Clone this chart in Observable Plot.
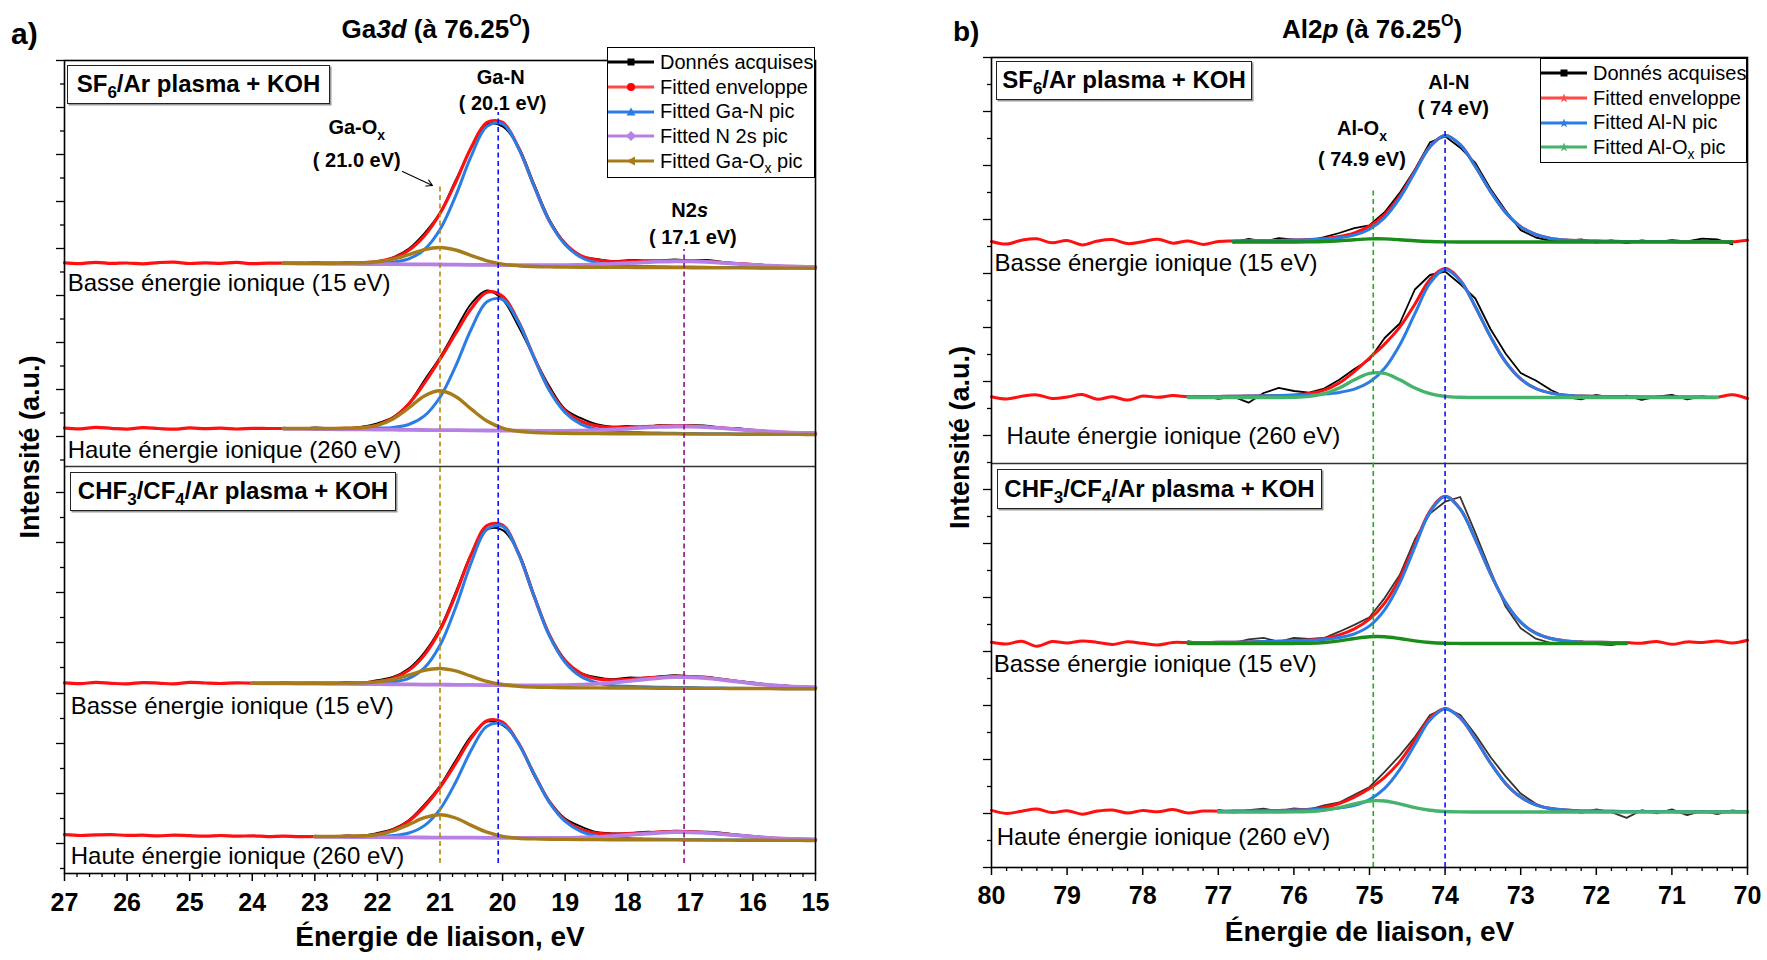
<!DOCTYPE html>
<html lang="fr">
<head>
<meta charset="utf-8">
<title>Ga3d / Al2p</title>
<script src="https://cdn.jsdelivr.net/npm/d3@7"></script>
<script src="https://cdn.jsdelivr.net/npm/@observablehq/plot@0.6"></script>
<style>
  html, body { margin: 0; padding: 0; background: #fff; }
  #root { position: relative; width: 1767px; height: 960px; overflow: hidden; font-family: "Liberation Sans", Arial, Helvetica, sans-serif; color: #000; }
  .panel { position: absolute; top: 0; }
  .hdr { position: absolute; font-weight: bold; line-height: 1; white-space: nowrap; }
  .title { text-align: center; font-size: 26px; }
  .title sup { font-size: 16px; vertical-align: 12px; line-height: 0; }
  .box { position: absolute; box-sizing: border-box; border: 1.5px solid #222; box-shadow: 1.5px 1.5px 0 #999; background: #fff; font-weight: bold; font-size: 24px; text-align: center; white-space: nowrap; }
  .box sub { font-size: 17px; vertical-align: -6px; line-height: 0; }
  .legend { position: absolute; box-sizing: border-box; border: 1.5px solid #000; background: #fff; font-size: 20px; padding-top: 2px; }
  .legend .item { height: 24.7px; display: flex; align-items: center; white-space: nowrap; }
  .legend svg { width: 46px; height: 14px; margin-right: 6px; flex: none; }
  .legend sub { font-size: 14px; vertical-align: -5px; line-height: 0; }
</style>
</head>
<body>
<div id="root"></div>
<script>
// ---------------- DATA (panel a : Ga3d) ----------------
const energyA = [27, 26.75, 26.5, 26.25, 26, 25.75, 25.5, 25.25, 25, 24.75, 24.5, 24.25, 24, 23.75, 23.5, 23.25, 23, 22.75, 22.5, 22.25, 22, 21.75, 21.5, 21.25, 21, 20.75, 20.5, 20.25, 20, 19.75, 19.5, 19.25, 19, 18.75, 18.5, 18.25, 18, 17.75, 17.5, 17.25, 17, 16.75, 16.5, 16.25, 16, 15.75, 15.5, 15.25, 15];
const spectraA = ["SF6/Ar basse", "SF6/Ar haute", "CHF3/CF4/Ar basse", "CHF3/CF4/Ar haute"];
const offsetA = [605.3, 439, 184.7, 33];
const fitStartA = [23.5, 23.5, 24, 23];

const envA1 = [5.3, 4.6, 5.9, 4.8, 5.2, 4.3, 5.6, 6.1, 4.7, 5.4, 4.9, 5.8, 4.5, 5.1, 5.0, 5.0, 5.0, 5.0, 5.1, 5.3, 6.7, 10.1, 17.9, 32.3, 54.7, 86.0, 120.9, 145.8, 145.8, 121.0, 82.8, 47.0, 24.5, 12.5, 8.3, 6.6, 6.6, 7.0, 7.4, 7.6, 7.4, 6.8, 5.7, 4.7, 3.5, 2.5, 1.9, 1.5, 1.2];
const envA2 = [6.4, 5.6, 7.1, 6.2, 5.4, 6.8, 6.0, 5.3, 6.6, 5.8, 6.3, 5.5, 6.1, 6.0, 6.0, 6.0, 6.0, 6.0, 6.2, 6.8, 9.5, 16.6, 30.5, 51.3, 75.3, 101.1, 126.0, 142.3, 138.2, 113.5, 77.5, 44.9, 23.5, 13.3, 8.6, 7.1, 7.3, 7.8, 8.4, 8.7, 8.5, 7.7, 6.6, 5.4, 4.1, 3.0, 2.2, 1.7, 1.4];
const envA3 = [5.9, 5.2, 6.4, 5.5, 5.0, 6.2, 5.7, 4.9, 6.5, 5.8, 5.3, 6.0, 5.6, 5.6, 5.6, 5.6, 5.6, 5.6, 5.7, 5.9, 7.2, 10.6, 18.5, 33.8, 58.5, 94.2, 134.4, 163.2, 163.7, 136.0, 93.1, 53.6, 28.0, 15.5, 10.1, 8.8, 9.4, 10.6, 11.7, 12.4, 12.2, 11.1, 9.3, 7.5, 5.5, 3.8, 2.7, 1.9, 1.4];
const envA4 = [5.8, 5.0, 5.6, 5.9, 5.1, 5.3, 4.6, 5.4, 4.8, 4.4, 5.0, 4.3, 4.7, 3.9, 4.4, 3.8, 4.0, 4.0, 4.1, 4.5, 6.1, 10.4, 19.3, 33.9, 53.2, 77.1, 102.4, 119.8, 118.3, 97.8, 67.0, 38.5, 20.2, 11.1, 7.3, 6.3, 6.8, 7.6, 8.4, 8.8, 8.7, 8.0, 6.7, 5.4, 3.9, 2.7, 1.9, 1.4, 1.0];

const dataA1 = [5.8, 4.5, 6.0, 4.7, 5.7, 5.5, 6.3, 10.9, 19.4, 34.8, 55.7, 88.0, 119.9, 143.8, 141.8, 122.0, 84.8, 48.5, 25.0, 12.0, 9.3, 7.1, 8.1, 7.8, 7.7, 8.8, 7.8, 8.3, 6.4, 4.9, 4.3, 2.8, 1.7, 1.8, 1.2];
const dataA2 = [6.7, 5.4, 7.1, 6.2, 5.7, 7.7, 11.2, 17.4, 31.0, 54.3, 77.3, 104.4, 131.0, 144.0, 134.9, 108.5, 77.5, 47.9, 25.2, 16.3, 10.3, 7.9, 8.5, 7.5, 9.3, 9.1, 9.2, 8.9, 6.9, 6.3, 4.3, 3.5, 2.3, 2.1, 1.4];
const dataA3 = [6.0, 4.9, 6.5, 5.4, 6.2, 5.1, 6.5, 6.1, 8.7, 11.8, 20.3, 36.3, 60.5, 96.7, 134.9, 159.2, 158.7, 137.0, 94.6, 54.1, 29.0, 16.0, 11.6, 9.6, 11.2, 11.0, 12.3, 13.6, 12.5, 12.1, 10.1, 7.9, 6.4, 4.1, 3.3, 1.7, 1.4];
const dataA4 = [4.8, 3.6, 5.0, 4.8, 7.5, 11.6, 20.3, 35.9, 54.7, 80.1, 104.7, 118.8, 115.3, 98.3, 65.3, 39.5, 21.9, 14.1, 8.5, 7.1, 7.2, 8.6, 8.7, 9.7, 9.2, 8.8, 7.9, 5.8, 4.6, 2.9, 2.4, 1.5, 1.0];

const ganA1 = [5.0, 5.0, 5.0, 5.0, 5.0, 5.0, 5.3, 6.1, 9.3, 18.6, 38.7, 72.3, 112.3, 141.8, 144.4, 120.6, 82.7, 46.8, 23.4, 11.0, 5.5, 3.1, 2.3, 1.8, 1.5, 1.3, 1.1, 0.9, 0.7, 0.6, 0.4, 0.2, 0.1, 0.1, 0];
const ganA2 = [6.0, 6.0, 6.0, 6.0, 6.0, 6.0, 6.3, 7.1, 10.0, 18.6, 37.3, 68.4, 105.5, 132.8, 135.0, 112.7, 77.2, 43.7, 21.9, 10.3, 5.2, 3.0, 2.2, 1.8, 1.4, 1.2, 1.0, 0.8, 0.7, 0.6, 0.4, 0.2, 0.1, 0.1, 0];
const ganA3 = [5.6, 5.6, 5.6, 5.6, 5.6, 5.6, 5.6, 5.6, 5.9, 6.9, 10.4, 20.9, 43.5, 81.3, 126.3, 159.4, 162.4, 135.6, 93.0, 52.6, 26.3, 12.3, 6.1, 3.4, 2.5, 2.0, 1.6, 1.4, 1.2, 0.9, 0.7, 0.6, 0.4, 0.2, 0.1, 0.1, 0];
const ganA4 = [4.0, 4.0, 4.0, 4.0, 4.2, 4.9, 7.5, 14.9, 31.2, 58.2, 90.5, 114.3, 116.4, 97.3, 66.8, 37.9, 19.1, 9.1, 4.6, 2.7, 2.0, 1.6, 1.3, 1.1, 1.0, 0.8, 0.6, 0.5, 0.4, 0.2, 0.1, 0.1, 0];

const n2sA1 = [4.8, 4.7, 4.6, 4.4, 4.3, 4.2, 4.1, 4.0, 3.9, 3.8, 3.7, 3.6, 3.4, 3.3, 3.2, 3.1, 3.1, 3.0, 3.1, 3.3, 3.7, 4.3, 5.0, 5.8, 6.5, 6.9, 6.8, 6.3, 5.4, 4.4, 3.4, 2.5, 1.9, 1.5, 1.2];
const n2sA2 = [5.7, 5.6, 5.5, 5.3, 5.2, 5.1, 4.9, 4.8, 4.7, 4.5, 4.4, 4.3, 4.1, 4.0, 3.9, 3.8, 3.7, 3.6, 3.7, 3.9, 4.3, 5.0, 5.8, 6.8, 7.6, 8.0, 7.9, 7.3, 6.3, 5.1, 4.0, 3.0, 2.2, 1.7, 1.4];
const n2sA3 = [5.6, 5.5, 5.4, 5.2, 5.1, 5.0, 4.9, 4.7, 4.6, 4.5, 4.4, 4.2, 4.1, 4.0, 3.9, 3.7, 3.6, 3.5, 3.5, 3.5, 3.7, 4.1, 5.0, 6.2, 7.7, 9.3, 10.7, 11.6, 11.5, 10.6, 9.0, 7.2, 5.3, 3.8, 2.7, 1.9, 1.4];
const n2sA4 = [3.6, 3.6, 3.5, 3.4, 3.3, 3.2, 3.1, 3.0, 2.9, 2.8, 2.8, 2.7, 2.6, 2.5, 2.5, 2.5, 2.6, 3.0, 3.5, 4.4, 5.5, 6.7, 7.7, 8.3, 8.2, 7.6, 6.4, 5.1, 3.8, 2.7, 1.9, 1.4, 1.0];

const gaoxA1 = [5.0, 5.0, 5.0, 5.0, 5.1, 5.3, 6.4, 9.0, 13.6, 18.6, 20.7, 18.2, 12.6, 7.4, 4.1, 2.5, 1.7, 1.3, 1.1, 0.9, 0.9, 0.8, 0.8, 0.7, 0.6, 0.6, 0.5, 0.4, 0.4, 0.3, 0.3, 0.2, 0.1, 0.1, 0];
const gaoxA2 = [6.0, 6.0, 6.0, 6.0, 6.2, 6.8, 9.2, 15.5, 26.5, 38.5, 43.7, 38.0, 25.3, 13.5, 6.4, 3.2, 2.0, 1.4, 1.2, 0.9, 0.9, 0.8, 0.8, 0.7, 0.6, 0.6, 0.5, 0.4, 0.4, 0.3, 0.3, 0.2, 0.1, 0.1, 0];
const gaoxA3 = [5.6, 5.6, 5.6, 5.6, 5.6, 5.6, 5.7, 5.9, 6.9, 9.3, 13.7, 18.4, 20.3, 17.9, 12.6, 7.5, 4.3, 2.6, 1.8, 1.4, 1.1, 0.9, 0.9, 0.8, 0.8, 0.7, 0.6, 0.6, 0.5, 0.4, 0.4, 0.3, 0.3, 0.2, 0.1, 0.1, 0];
const gaoxA4 = [4.0, 4.0, 4.1, 4.5, 5.9, 9.5, 15.9, 22.8, 25.8, 22.5, 15.1, 8.3, 4.2, 2.3, 1.6, 1.2, 1.1, 0.9, 0.9, 0.8, 0.8, 0.7, 0.6, 0.6, 0.5, 0.4, 0.4, 0.3, 0.3, 0.2, 0.1, 0.1, 0];

// ---------------- DATA (panel b : Al2p) ----------------
const energyB = [80, 79.8, 79.6, 79.4, 79.2, 79, 78.8, 78.6, 78.4, 78.2, 78, 77.8, 77.6, 77.4, 77.2, 77, 76.8, 76.6, 76.4, 76.2, 76, 75.8, 75.6, 75.4, 75.2, 75, 74.8, 74.6, 74.4, 74.2, 74, 73.8, 73.6, 73.4, 73.2, 73, 72.8, 72.6, 72.4, 72.2, 72, 71.8, 71.6, 71.4, 71.2, 71, 70.8, 70.6, 70.4, 70.2, 70];
const spectraB = ["SF6/Ar basse", "SF6/Ar haute", "CHF3/CF4/Ar basse", "CHF3/CF4/Ar haute"];
const offsetB = [625.5, 470, 224, 55.5];
const fitStartB = [76.8, 77.4, 77.4, 77];

const envB1 = [0.5, -2.1, 1.8, 3.2, -0.8, 1.5, -3.0, 0.9, 2.4, -1.6, 0.3, 2.8, -1.2, 1.1, -2.4, 0.6, 1.0, 1.2, 1.4, 1.6, 1.9, 2.4, 3.4, 5.5, 9.2, 15.9, 27.5, 46.1, 71.0, 95.6, 106.6, 97.3, 75.5, 50.7, 29.6, 15.4, 7.5, 3.6, 1.9, 1.2, 1.0, 0.7, 0.6, 0.5, 0.5, 0.4, 0.3, 0.3, 0.2, 0.2, 1.8];
const envB2 = [0.8, -1.5, 1.2, 2.6, -0.9, 0.4, 2.9, -1.8, 0.7, -2.6, 1.5, 0.2, 1.9, 0.8, 0.9, 1.0, 1.2, 1.4, 1.7, 1.9, 2.5, 3.9, 7.3, 14.6, 26.0, 39.5, 53.4, 70.3, 93.3, 118.1, 129.1, 117.2, 90.8, 60.9, 35.6, 18.6, 9.0, 4.4, 2.3, 1.4, 1.2, 0.9, 0.8, 0.6, 0.6, 0.5, 0.4, 0.4, 0.3, 2.8, -1.0];
const envB3 = [1.2, -0.5, 2.3, -2.8, 1.9, 0.4, 2.6, 1.1, -0.9, 1.7, 0.2, -1.4, 1.0, 0.9, 1.0, 1.2, 1.3, 1.6, 1.9, 2.2, 2.7, 3.5, 5.1, 8.6, 14.6, 24.3, 40.4, 65.4, 99.0, 132.4, 147.3, 134.5, 104.2, 70.0, 40.9, 21.3, 10.3, 5.0, 2.6, 1.6, 1.3, 1.0, 0.9, 0.3, 2.1, -0.8, 1.6, 0.9, 2.4, 0.6, 3.3];
const envB4 = [1.6, -1.4, 0.8, 2.9, -0.6, 1.3, -2.2, 0.9, 2.0, -1.1, 1.5, 0.2, 2.4, -0.9, 1.0, 0.8, 0.9, 1.1, 1.3, 1.5, 2.0, 2.8, 4.5, 8.5, 14.8, 23.5, 34.7, 50.4, 71.9, 93.7, 103.5, 94.2, 73.0, 49.0, 28.6, 14.9, 7.2, 3.5, 1.9, 1.1, 0.9, 0.7, 0.6, 0.5, 0.5, 0.4, 0.3, 0.3, 0.2, 0.2, 0.2];

const dataB1 = [-0.5, 3.0, 0.6, 3.8, 2.4, 1.2, 4.9, 9.0, 13.8, 16.7, 29.7, 49.1, 72.5, 99.6, 105.6, 94.3, 79.0, 53.2, 31.4, 11.9, 4.5, 1.1, 1.3, 2.5, -0.5, 1.6, -1.2, 1.7, 0.1, 1.9, 0.5, 3.3, 2.6, -2.3];
const dataB2 = [-0.4, 1.7, -1.3, 0.9, -5.2, 4.5, 9.6, 6.5, 4.9, 9.0, 17.8, 28.5, 38.0, 59.5, 74.0, 108.0, 122.5, 126.0, 113.5, 99.0, 68.5, 44.0, 24.5, 17.0, 7.5, 0.5, -1.8, 2.6, -0.7, 1.9, -2.4, 0.8, 2.7, -1.9, 1.2, -0.5];
const dataB3 = [2.4, -0.2, 1.7, 0.4, 4.2, 5.7, 1.6, 5.7, 4.5, 5.5, 11.8, 18.6, 26.3, 45.4, 68.4, 104.0, 129.9, 141.8, 146.5, 110.7, 73.0, 36.9, 15.3, 4.8, 0.5, -0.2, 2.0, -0.6, -1.5, 1.2];
const dataB4 = [2.0, -0.6, 1.8, 3.3, 0.7, 3.6, 2.3, 6.7, 9.5, 17.3, 25.0, 40.2, 56.4, 74.9, 97.0, 104.0, 97.2, 77.5, 55.0, 35.6, 18.4, 8.2, 2.3, 2.3, -0.9, 2.5, -0.1, -5.9, 1.8, -1.4, 2.6, -3.2, 1.2, -2.0, 1.6, -0.4];

const alnB1 = [1.0, 1.2, 1.4, 1.6, 1.9, 2.3, 2.9, 4.3, 6.9, 12.8, 24.4, 43.8, 69.8, 95.1, 106.5, 97.3, 75.5, 50.7, 29.6, 15.4, 7.5, 3.6, 1.9, 1.2, 1.0, 0.7, 0.6, 0.5, 0.5, 0.4, 0.3, 0.3, 0.2, 0.2];
const alnB2 = [0.8, 0.9, 1.0, 1.2, 1.4, 1.7, 1.9, 2.3, 2.8, 3.5, 5.1, 8.3, 15.4, 29.3, 52.6, 83.8, 114.3, 128.0, 117.0, 90.8, 60.9, 35.6, 18.6, 9.0, 4.4, 2.3, 1.4, 1.2, 0.9, 0.8, 0.6, 0.6, 0.5, 0.4, 0.4, 0.3];
const alnB3 = [0.9, 1.0, 1.2, 1.3, 1.6, 1.9, 2.2, 2.6, 3.2, 4.0, 5.9, 9.6, 17.6, 33.7, 60.4, 96.3, 131.3, 147.0, 134.4, 104.2, 70.0, 40.9, 21.3, 10.3, 5.0, 2.6, 1.6, 1.3, 1.0, 0.9];
const alnB4 = [0.8, 0.9, 1.1, 1.3, 1.5, 1.9, 2.3, 2.8, 4.1, 6.7, 12.4, 23.6, 42.3, 67.5, 92.0, 103.0, 94.1, 73.0, 49.0, 28.6, 14.9, 7.2, 3.5, 1.9, 1.1, 0.9, 0.7, 0.6, 0.5, 0.5, 0.4, 0.3, 0.3, 0.2, 0.2, 0.2];

const aloxB1 = [0, 0, 0, 0, 0.03, 0.14, 0.48, 1.2, 2.3, 3.1, 3.1, 2.3, 1.2, 0.5, 0.14, 0.03, 0, 0, 0, 0, 0, 0, 0, 0, 0, 0, 0, 0, 0, 0, 0, 0, 0, 0];
const aloxB2 = [0, 0, 0, 0, 0, 0, 0.04, 0.2, 1.1, 3.8, 9.5, 17.7, 24.1, 24.1, 17.7, 9.5, 3.8, 1.1, 0.2, 0.04, 0, 0, 0, 0, 0, 0, 0, 0, 0, 0, 0, 0, 0, 0, 0, 0];
const aloxB3 = [0, 0, 0, 0, 0, 0, 0, 0.06, 0.31, 1.06, 2.67, 4.95, 6.73, 6.73, 4.95, 2.67, 1.06, 0.31, 0.06, 0, 0, 0, 0, 0, 0, 0, 0, 0, 0, 0];
const aloxB4 = [0, 0, 0, 0, 0.02, 0.1, 0.51, 1.74, 4.38, 8.13, 11.06, 11.06, 8.13, 4.38, 1.74, 0.51, 0.1, 0.02, 0, 0, 0, 0, 0, 0, 0, 0, 0, 0, 0, 0, 0, 0, 0, 0, 0, 0];

// ---------------- axes & annotations ----------------
const xTicksA = [27, 26, 25, 24, 23, 22, 21, 20, 19, 18, 17, 16, 15];
const xTicksB = [80, 79, 78, 77, 76, 75, 74, 73, 72, 71, 70];
const yMajorA = [813, 766, 719, 672, 625, 578, 531, 484, 437, 381, 331, 281, 231, 180, 130, 80, 30];
const yMinorA = [789.5, 742.5, 695.5, 648.5, 601.5, 554.5, 507.5, 460.5, 413.5, 356, 306, 256, 206, 155, 105, 55, 5];
const yMajorB = [810, 756, 702, 648, 594, 540, 486, 432, 378, 324, 270, 216, 162, 108, 54, 0];
const yMinorB = [783, 729, 675, 621, 567, 513, 459, 405, 351, 297, 243, 189, 135, 81, 27];
const dividerA = [407];
const dividerB = [404];

const peakNotesA = [
  {text: "Ga-N", E: 20.03, I: 796},
  {text: "( 20.1 eV)", E: 20.0, I: 770},
  {text: "Ga-Ox", E: 22.33, I: 746},
  {text: "( 21.0 eV)", E: 22.33, I: 713},
  {text: "N2s", E: 17.01, I: 663},
  {text: "( 17.1 eV)", E: 16.96, I: 636}
];
const peakNotesB = [
  {text: "Al-N", E: 73.95, I: 785},
  {text: "( 74 eV)", E: 73.89, I: 759},
  {text: "Al-Ox", E: 75.1, I: 739},
  {text: "( 74.9 eV)", E: 75.1, I: 708}
];
const energyNotesA = [
  {text: "Basse énergie ionique (15 eV)", E: 26.95, I: 590},
  {text: "Haute énergie ionique (260 eV)", E: 26.95, I: 423},
  {text: "Basse énergie ionique (15 eV)", E: 26.9, I: 167},
  {text: "Haute énergie ionique (260 eV)", E: 26.9, I: 17}
];
const energyNotesB = [
  {text: "Basse énergie ionique (15 eV)", E: 79.96, I: 604},
  {text: "Haute énergie ionique (260 eV)", E: 79.8, I: 431},
  {text: "Basse énergie ionique (15 eV)", E: 79.97, I: 203},
  {text: "Haute énergie ionique (260 eV)", E: 79.93, I: 30}
];
const peakLinesA = [
  {E: 21.0, I1: 10, I2: 690, color: "#b8860b"},
  {E: 20.07, I1: 10, I2: 761, color: "#1010ff"},
  {E: 17.1, I1: 10, I2: 624, color: "#8b108b"}
];
const peakLinesB = [
  {E: 74.95, I1: 0, I2: 677, color: "#22aa22"},
  {E: 74.0, I1: 0, I2: 739, color: "#1010ff"}
];
const arrowsA = [{E1: 21.6, I1: 702, E2: 21.12, I2: 688}];

// ---------------- series styling ----------------
const seriesA = [
  {values: [dataA1, dataA2, dataA3, dataA4], full: false, stroke: "#000", width: 1.9},
  {values: [envA1, envA2, envA3, envA4], full: true, stroke: "#ff1010", width: 3.2},
  {values: [ganA1, ganA2, ganA3, ganA4], full: false, stroke: "#2b7de6", width: 3},
  {values: [n2sA1, n2sA2, n2sA3, n2sA4], full: false, stroke: "#b780e4", width: 3.8},
  {values: [gaoxA1, gaoxA2, gaoxA3, gaoxA4], full: false, stroke: "#a67c1a", width: 3.4}
];
const seriesB = [
  {values: [dataB1, dataB2, dataB3, dataB4], full: false, stroke: ["#000", "#000", "#333", "#333"], width: 1.8, curve: "linear"},
  {values: [envB1, envB2, envB3, envB4], full: true, stroke: "#ff1010", width: 3},
  {values: [alnB1, alnB2, alnB3, alnB4], full: false, stroke: "#2b7de6", width: 3},
  {values: [aloxB1, aloxB2, aloxB3, aloxB4], full: false, stroke: ["#1a8c1a", "#45b36b", "#1a8c1a", "#45b36b"], width: 3.4}
];

const FONT = "Liberation Sans, Arial, Helvetica, sans-serif";

function richText(svg) {
  d3.select(svg).selectAll("text").each(function () {
    const t = this.textContent;
    const s = d3.select(this);
    if (t === "Ga-Ox" || t === "Al-Ox") {
      s.text(null);
      s.append("tspan").text(t.slice(0, -1));
      s.append("tspan").attr("dy", 6).attr("font-size", 14).text("x");
    } else if (t === "N2s") {
      s.text(null);
      s.append("tspan").text("N2");
      s.append("tspan").attr("font-style", "italic").text("s");
    }
  });
}

function drawPanel(cfg) {
  const marks = [];
  cfg.series.forEach(s => {
    s.values.forEach((vals, k) => {
      const start = s.full ? 0 : cfg.energy.indexOf(cfg.fitStart[k]);
      const rows = vals.map((v, i) => ({E: cfg.energy[start + i], I: v + cfg.offsets[k], spectrum: cfg.spectra[k]}));
      const stroke = Array.isArray(s.stroke) ? s.stroke[k] : s.stroke;
      marks.push(Plot.line(rows, {x: "E", y: "I", stroke, strokeWidth: s.width, curve: s.curve || "catmull-rom", strokeLinejoin: "round"}));
    });
  });
  marks.push(Plot.ruleY(cfg.divider, {stroke: "#333", strokeWidth: 1.5}));
  cfg.rules.forEach(r => marks.push(Plot.ruleX([r], {x: "E", y1: "I1", y2: "I2", stroke: r.color, strokeWidth: 1.6, strokeDasharray: "5,3.5"})));
  if (cfg.arrows) marks.push(Plot.arrow(cfg.arrows, {x1: "E1", y1: "I1", x2: "E2", y2: "I2", stroke: "#000", strokeWidth: 1.1, headLength: 9}));
  marks.push(Plot.text(cfg.peakNotes, {x: "E", y: "I", text: "text", fontSize: 20, fontWeight: "bold", fill: "#000", textAnchor: "middle"}));
  marks.push(Plot.text(cfg.energyNotes, {x: "E", y: "I", text: "text", fontSize: 24, fill: "#000", textAnchor: "start"}));
  marks.push(Plot.axisX({ticks: cfg.xMinor, tickSize: 4, tickFormat: () => "", label: null, strokeWidth: 1.3}));
  marks.push(Plot.axisX({ticks: cfg.xTicks, tickSize: 8, tickPadding: cfg.tickPadding, tickFormat: d => String(d), label: null, fontSize: 25, fontWeight: "bold", strokeWidth: 1.5}));
  marks.push(Plot.axisY({ticks: cfg.yMinor, tickSize: 4, tickFormat: () => "", label: null, strokeWidth: 1.3}));
  marks.push(Plot.axisY({ticks: cfg.yMajor, tickSize: 8, tickFormat: () => "", label: null, strokeWidth: 1.3}));
  marks.push(Plot.text(["Énergie de liaison, eV"], {frameAnchor: "bottom", dy: cfg.xTitleDy, fontSize: 28, fontWeight: "bold", fill: "#000"}));
  marks.push(Plot.text(["Intensité (a.u.)"], {frameAnchor: "left", textAnchor: "middle", rotate: -90, dx: cfg.yLabelDx, dy: cfg.yLabelDy, fontSize: 27, fontWeight: "bold", fill: "#000"}));
  marks.push(Plot.frame({stroke: "#000", strokeWidth: 1.6}));

  const svg = Plot.plot({
    width: cfg.width, height: 960,
    marginLeft: cfg.margin[0], marginRight: cfg.margin[1], marginTop: cfg.margin[2], marginBottom: cfg.margin[3],
    x: {domain: cfg.xDomain, label: null},
    y: {domain: cfg.yDomain, label: null},
    style: {fontFamily: FONT, background: "transparent", color: "#000", overflow: "visible"},
    marks
  });
  richText(svg);
  return svg;
}

const root = document.getElementById("root");

const panelA = drawPanel({
  energy: energyA, spectra: spectraA, offsets: offsetA, fitStart: fitStartA, series: seriesA,
  xDomain: [27, 15], yDomain: [0, 813], width: 880, margin: [64, 65, 60, 87],
  xTicks: xTicksA, xMinor: d3.range(15.2, 27, 0.2).filter(v => Math.abs(v - Math.round(v)) > 0.05),
  yMajor: yMajorA, yMinor: yMinorA, divider: dividerA, rules: peakLinesA, arrows: arrowsA,
  peakNotes: peakNotesA, energyNotes: energyNotesA, tickPadding: 12, xTitleDy: 72, yLabelDx: -34, yLabelDy: -20
});
const panelB = drawPanel({
  energy: energyB, spectra: spectraB, offsets: offsetB, fitStart: fitStartB, series: seriesB,
  xDomain: [80, 70], yDomain: [0, 810], width: 887, margin: [111, 20, 57, 93],
  xTicks: xTicksB, xMinor: d3.range(70.2, 80, 0.2).filter(v => Math.abs(v - Math.round(v)) > 0.05),
  yMajor: yMajorB, yMinor: yMinorB, divider: dividerB, rules: peakLinesB, arrows: null,
  peakNotes: peakNotesB, energyNotes: energyNotesB, tickPadding: 11, xTitleDy: 73, yLabelDx: -31, yLabelDy: -25
});

function place(node, left) {
  const d = document.createElement("div");
  d.className = "panel";
  d.style.left = left + "px";
  d.appendChild(node);
  root.appendChild(d);
}
place(panelA, 0);
place(panelB, 880);

// ---------------- headers, boxes, legends (HTML) ----------------
function html(str) { root.insertAdjacentHTML("beforeend", str); }
html('<div class="hdr" style="left:11px;top:19px;font-size:30px">a)</div>');
html('<div class="hdr title" style="left:236px;top:16px;width:400px">Ga<i>3d</i> (à 76.25<sup>O</sup>)</div>');
html('<div class="hdr" style="left:953px;top:18px;font-size:28px">b)</div>');
html('<div class="hdr title" style="left:1172px;top:16px;width:400px">Al2<i>p</i> (à 76.25<sup>O</sup>)</div>');

const boxes = [
  {html: "SF<sub>6</sub>/Ar plasma + KOH", left: 67, top: 65, w: 263, h: 39},
  {html: "CHF<sub>3</sub>/CF<sub>4</sub>/Ar plasma + KOH", left: 70, top: 472, w: 326, h: 39},
  {html: "SF<sub>6</sub>/Ar plasma + KOH", left: 996, top: 61, w: 256, h: 39},
  {html: "CHF<sub>3</sub>/CF<sub>4</sub>/Ar plasma + KOH", left: 997, top: 469, w: 325, h: 40}
];
boxes.forEach(b => html(`<div class="box" style="left:${b.left}px;top:${b.top}px;width:${b.w}px;height:${b.h}px;line-height:${b.h - 3}px">${b.html}</div>`));

function marker(shape, color) {
  switch (shape) {
    case "square": return `<rect x="19.5" y="3.5" width="7" height="7" fill="${color}"/>`;
    case "circle": return `<circle cx="23" cy="7" r="4" fill="${color}"/>`;
    case "triangle": return `<path d="M23,2.5 L27.5,10.5 L18.5,10.5 Z" fill="${color}"/>`;
    case "diamond": return `<path d="M23,2 L28,7 L23,12 L18,7 Z" fill="${color}"/>`;
    case "left": return `<path d="M18.5,7 L27,2.5 L27,11.5 Z" fill="${color}"/>`;
    case "star": return `<path d="M23,2.5 L24.2,5.8 L27.6,5.8 L24.9,7.9 L25.9,11.3 L23,9.3 L20.1,11.3 L21.1,7.9 L18.4,5.8 L21.8,5.8 Z" fill="${color}"/>`;
  }
  return "";
}
function legend(items, left, top, w, h) {
  const rows = items.map(it => `<div class="item"><svg viewBox="0 0 46 14"><line x1="0" y1="7" x2="46" y2="7" stroke="${it.line}" stroke-width="3"/>${marker(it.shape, it.color)}</svg><span>${it.label}</span></div>`).join("");
  html(`<div class="legend" style="left:${left}px;top:${top}px;width:${w}px;height:${h}px">${rows}</div>`);
}
legend([
  {label: "Donnés acquises", line: "#000", color: "#000", shape: "square"},
  {label: "Fitted enveloppe", line: "#ff4a4a", color: "#ff0000", shape: "circle"},
  {label: "Fitted Ga-N pic", line: "#2b7de6", color: "#2b7de6", shape: "triangle"},
  {label: "Fitted N 2s pic", line: "#b780e4", color: "#b780e4", shape: "diamond"},
  {label: "Fitted Ga-O<sub>x</sub> pic", line: "#a67c1a", color: "#a67c1a", shape: "left"}
], 607, 47, 208, 131);
legend([
  {label: "Donnés acquises", line: "#000", color: "#000", shape: "square"},
  {label: "Fitted enveloppe", line: "#ff4a4a", color: "#ff4a4a", shape: "star"},
  {label: "Fitted Al-N pic", line: "#2b7de6", color: "#2b7de6", shape: "star"},
  {label: "Fitted Al-O<sub>x</sub> pic", line: "#45b36b", color: "#45b36b", shape: "star"}
], 1540, 58, 207, 105);
</script>
</body>
</html>
